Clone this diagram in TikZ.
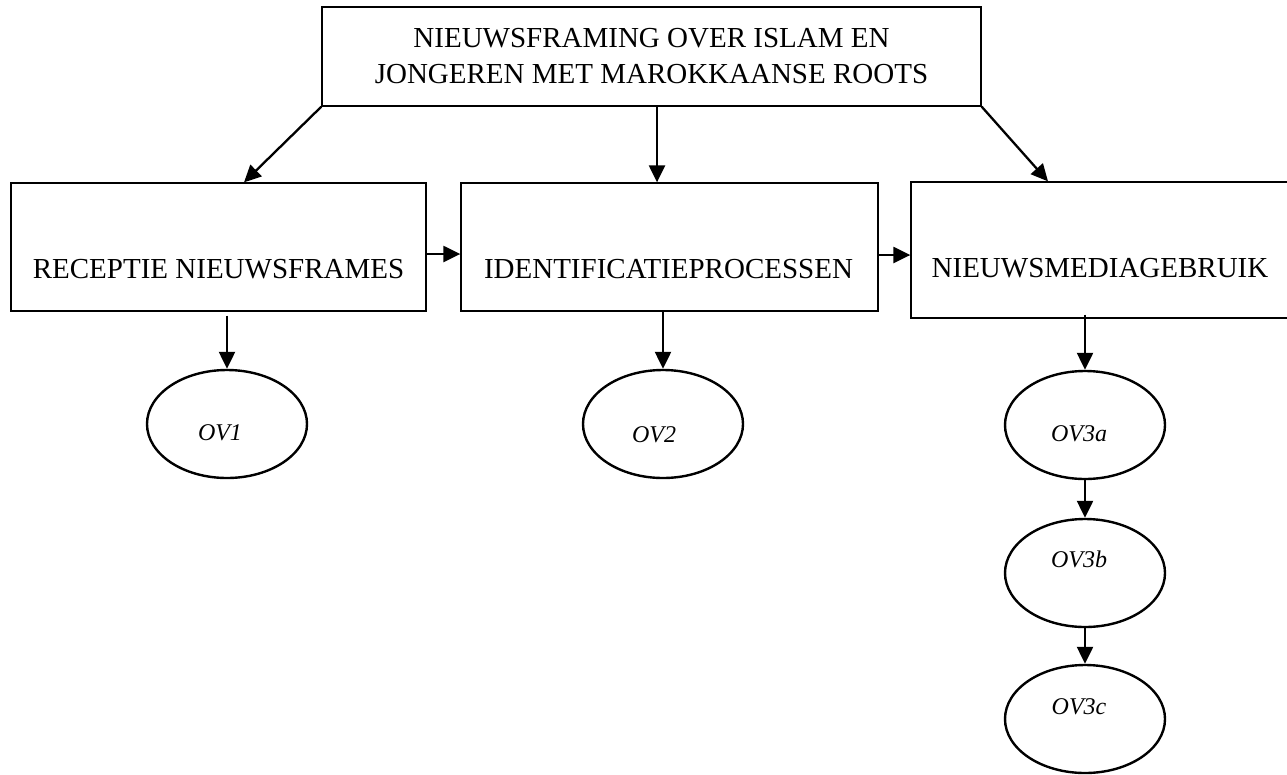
\documentclass[tikz,border=0pt]{standalone}
\usepackage{fontspec}
\setmainfont{Liberation Serif}
\usetikzlibrary{arrows.meta,shapes.geometric}
\begin{document}
\begin{tikzpicture}[x=1pt,y=-1pt,
  box/.style={draw, line width=1.3pt, rectangle, inner sep=0pt},
  oval/.style={draw, line width=2.4pt, ellipse, inner sep=0pt, minimum width=160, minimum height=108},
  lbl/.style={font=\fontsize{29}{36}\selectfont, inner sep=0pt},
  ovl/.style={font=\fontsize{24}{28}\selectfont\itshape, inner sep=0pt},
  arr/.style={line width=2.3pt, -{Triangle[length=17pt,width=16pt]}}]
\useasboundingbox (0,0) rectangle (1287,774);
\clip (0,0) rectangle (1287,774);

% boxes
\node[box, minimum width=659, minimum height=99, align=center, lbl] (top) at (651.5,56.5)
  {NIEUWSFRAMING OVER ISLAM EN\\JONGEREN MET MAROKKAANSE ROOTS};
\node[box, minimum width=415, minimum height=128] (box1) at (218.5,247) {};
\node[box, minimum width=417, minimum height=128] (box2) at (669.5,247) {};
\node[box, minimum width=379, minimum height=136] (box3) at (1100.5,250) {};
\node[lbl, anchor=base] (t1) at (218.5,278) {RECEPTIE NIEUWSFRAMES};
\node[lbl, anchor=base] (t2) at (668.5,278) {IDENTIFICATIEPROCESSEN};
\node[lbl, anchor=base] (t3) at (1100,277) {NIEUWSMEDIAGEBRUIK};

% ellipses
\node[oval] (ov1) at (227,424) {};
\node[oval] (ov2) at (663,424) {};
\node[oval] (ov3a) at (1085,425) {};
\node[oval] (ov3b) at (1085,573) {};
\node[oval] (ov3c) at (1085,719) {};
\node[ovl] (l1) at (220,433) {OV1};
\node[ovl] (l2) at (654,435) {OV2};
\node[ovl] (l3a) at (1079,434) {OV3a};
\node[ovl] (l3b) at (1079,559) {OV3b};
\node[ovl] (l3c) at (1079,707) {OV3c};

% arrows
\draw[arr] (top.south west) -- ([xshift=25.5pt]box1.north);
\draw[arr] ([xshift=5.5pt]top.south) -- ([xshift=5.5pt]top.south |- box2.north);
\draw[arr] (top.south east) -- ([xshift=-52.5pt]box3.north);
\draw[arr] ([yshift=-7pt]box1.east) -- ([yshift=-7pt]box1.east -| box2.west);
\draw[arr] ([yshift=-8pt]box2.east) -- ([yshift=-8pt]box2.east -| box3.west);
\draw[arr] ([yshift=-4pt]box1.south -| ov1.north) -- (ov1.north);
\draw[arr] (box2.south -| ov2.north) -- (ov2.north);
\draw[arr] ([yshift=4pt]box3.south -| ov3a.north) -- (ov3a.north);
\draw[arr] (ov3a.south) -- (ov3b.north);
\draw[arr] (ov3b.south) -- (ov3c.north);
\end{tikzpicture}
\end{document}
